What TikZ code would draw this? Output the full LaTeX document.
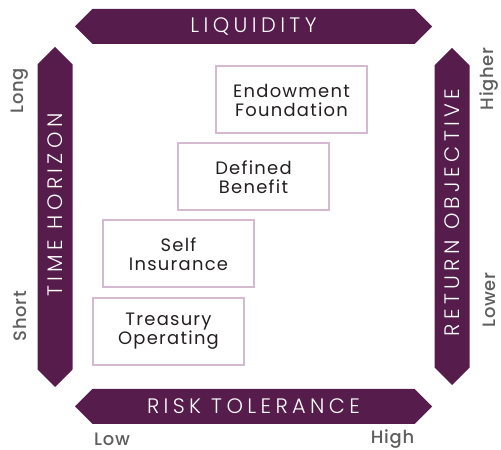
\documentclass[tikz,border=0pt]{standalone}
\usepackage{fontspec}
\setmainfont{Poppins}
\newfontfamily\thinfont{Poppins Light}[LetterSpace=21]
\newfontfamily\boxfont{Poppins}[LetterSpace=7]
\newfontfamily\midfont{Poppins Medium}[LetterSpace=4]
\usepackage{tikz}
\usetikzlibrary{shapes.symbols}

\definecolor{plum}{HTML}{561C4C}
\definecolor{lilac}{HTML}{D5B9D0}
\definecolor{axisgray}{HTML}{5E5E5E}
\definecolor{ink}{HTML}{231F20}

\begin{document}
\begin{tikzpicture}[x=1bp, y=1bp,
  banner/.style={shape=signal, signal to=east and west, signal pointer angle=90,
                 fill=plum, draw=none, text=white, minimum height=35bp, inner sep=0pt,
                 font=\thinfont\fontsize{21}{22}\selectfont},
  box/.style={draw=lilac, line width=2bp, minimum width=151bp, minimum height=67bp,
              align=center, text=ink, font=\boxfont\fontsize{18}{19}\selectfont},
  ends/.style={text=axisgray, font=\midfont\fontsize{18}{19}\selectfont},
]
\useasboundingbox (0,0) rectangle (501,450);

% --- Frame of four banners ---
\node[banner, minimum width=357bp] (liq) at (253.5,423.5) {LIQUIDITY};
\node[banner, minimum width=357bp] (risk) at (253.5,43.5) {RISK TOLERANCE};
\node[banner, minimum width=340bp, rotate=90] (time) at (55,233) {\hspace*{24bp}TIME HORIZON};
\node[banner, minimum width=337bp, rotate=90] (ret) at (452,233.5) {\hspace*{8bp}RETURN OBJECTIVE};

% --- Scale ends ---
\node[ends, rotate=90] (long) at (20,359) {Long};
\node[ends, rotate=90] (short) at (20,134) {Short};
\node[ends, rotate=90] (higher) at (489,371) {Higher};
\node[ends, rotate=90] (lower) at (489,150) {Lower};
\node[ends] (low) at (112,11) {Low};
\node[ends] (high) at (392.5,11) {High};

% --- Investor types, stepping up ---
\node[box] (endow) at (291.5,350) {Endowment\\Foundation};
\node[box] (db) at (253.5,273) {Defined\\Benefit};
\node[box] (selfins) at (178.5,196) {Self\\Insurance};
\node[box] (treas) at (168.5,118.5) {Treasury\\Operating};
\end{tikzpicture}
\end{document}
